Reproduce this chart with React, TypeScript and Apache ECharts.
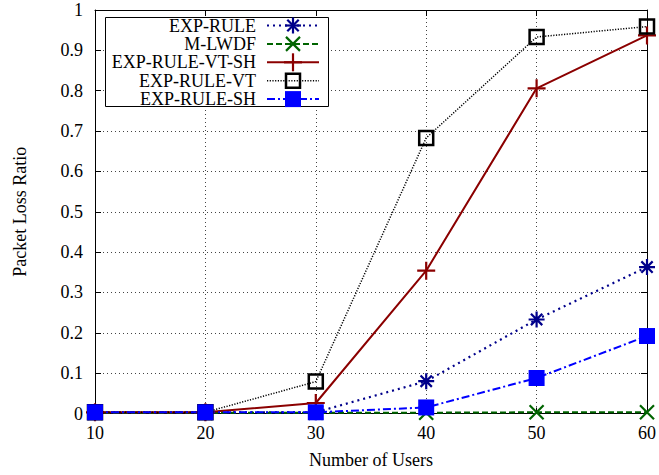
import React, { useEffect, useRef } from "react";
import * as echarts from "echarts";

const users = [10, 20, 30, 40, 50, 60];
const expRule = [0.003, 0.003, 0.003, 0.08, 0.233, 0.363];
const mLwdf = [0.002, 0.002, 0.002, 0.002, 0.003, 0.003];
const expRuleVtSh = [0.003, 0.003, 0.026, 0.354, 0.806, 0.937];
const expRuleVt = [0.003, 0.003, 0.079, 0.683, 0.933, 0.959];
const expRuleSh = [0.003, 0.003, 0.003, 0.015, 0.088, 0.192];
const seriesNames = ["EXP-RULE", "M-LWDF", "EXP-RULE-VT-SH", "EXP-RULE-VT", "EXP-RULE-SH"];

const FONT = "Liberation Serif";
const FS = 18;
const STAR = "path://M10,0L10,20M0,10L20,10M2.93,2.93L17.07,17.07M2.93,17.07L17.07,2.93";
const CROSS = "path://M0,0L20,20M0,20L20,0";
const PLUS = "path://M10,0L10,20M0,10L20,10";
const SQUARE = "path://M0,0L20,0L20,20L0,20Z";

const styles = [
  { color: "#00008b", dash: [2, 4] as any, width: 2.2, kind: "star" },
  { color: "#006400", dash: [6, 3] as any, width: 2, kind: "cross" },
  { color: "#8b0000", dash: "solid" as any, width: 2, kind: "plus" },
  { color: "#000000", dash: [1.2, 1.5] as any, width: 1.5, kind: "osq" },
  { color: "#0000ff", dash: [8, 3, 2, 3] as any, width: 2, kind: "fsq" },
];

const allData = [expRule, mLwdf, expRuleVtSh, expRuleVt, expRuleSh];

function markerSeries(i: number) {
  const s = styles[i];
  const base: any = {
    name: seriesNames[i],
    type: "line",
    data: users.map((u, k) => [u, allData[i][k]]),
    lineStyle: { color: s.color, width: s.width, type: s.dash },
    showSymbol: true,
    symbolKeepAspect: true,
  };
  if (s.kind === "star") {
    base.symbol = STAR; base.symbolSize = 16;
    base.itemStyle = { color: "none", borderColor: s.color, borderWidth: 2.2 };
  } else if (s.kind === "cross") {
    base.symbol = CROSS; base.symbolSize = 14;
    base.itemStyle = { color: "none", borderColor: s.color, borderWidth: 2.2 };
  } else if (s.kind === "plus") {
    base.symbol = PLUS; base.symbolSize = 18;
    base.itemStyle = { color: "none", borderColor: s.color, borderWidth: 2.2 };
  } else if (s.kind === "osq") {
    base.symbol = SQUARE; base.symbolSize = 14;
    base.itemStyle = { color: "rgba(0,0,0,0)", borderColor: s.color, borderWidth: 2.5 };
  } else {
    base.symbol = "rect"; base.symbolSize = 16;
    base.itemStyle = { color: s.color, borderWidth: 0 };
  }
  return base;
}

function legendMarker(kind: string, color: string, cx: number, cy: number): any[] {
  const ln = (x1: number, y1: number, x2: number, y2: number) => ({
    type: "line", z: 102,
    shape: { x1, y1, x2, y2 },
    style: { stroke: color, lineWidth: 2.2 },
  });
  if (kind === "star") {
    return [ln(cx, cy - 8, cx, cy + 8), ln(cx - 8, cy, cx + 8, cy), ln(cx - 5.7, cy - 5.7, cx + 5.7, cy + 5.7), ln(cx - 5.7, cy + 5.7, cx + 5.7, cy - 5.7)];
  }
  if (kind === "cross") {
    return [ln(cx - 7, cy - 7, cx + 7, cy + 7), ln(cx - 7, cy + 7, cx + 7, cy - 7)];
  }
  if (kind === "plus") {
    return [ln(cx, cy - 9, cx, cy + 9), ln(cx - 9, cy, cx + 9, cy)];
  }
  if (kind === "osq") {
    return [{ type: "rect", z: 102, shape: { x: cx - 7, y: cy - 7, width: 14, height: 14 }, style: { fill: "none", stroke: color, lineWidth: 2.5 } }];
  }
  return [{ type: "rect", z: 102, shape: { x: cx - 8, y: cy - 8, width: 16, height: 16 }, style: { fill: color } }];
}

export default function App() {
  const ref = useRef<HTMLDivElement>(null);
  useEffect(() => {
    if (!ref.current) return;
    const chart = echarts.init(ref.current, null, { renderer: "svg" });
    const graphics: any[] = [
      { type: "rect", z: 100, shape: { x: 105.5, y: 17.5, width: 223, height: 89 }, style: { fill: "#fff", stroke: "#000", lineWidth: 1 } },
    ];
    seriesNames.forEach((name, i) => {
      const y = 25.5 + i * 18.4;
      const s = styles[i];
      graphics.push({
        type: "text", z: 101, x: 256, y,
        style: { text: name, font: `${FS}px "${FONT}"`, fill: "#000", align: "right", verticalAlign: "middle" },
      });
      graphics.push({
        type: "line", z: 101, shape: { x1: 267, y1: y, x2: 319, y2: y },
        style: { stroke: s.color, lineWidth: s.width, lineDash: s.dash === "solid" ? null : s.dash },
      });
      graphics.push(...legendMarker(s.kind, s.color, 293, y));
    });

    const axisCommon = {
      min: 0, max: 1, interval: 0.1,
    };
    chart.setOption({
      animation: false,
      backgroundColor: "#fff",
      textStyle: { fontFamily: FONT },
      grid: { left: 95, right: 10, top: 10, bottom: 61.5, containLabel: false },
      xAxis: [
        {
          type: "value", min: 10, max: 60, interval: 10, position: "bottom",
          name: "Number of Users", nameLocation: "middle", nameGap: 37,
          nameTextStyle: { fontFamily: FONT, fontSize: FS, color: "#000" },
          axisLine: { show: true, onZero: false, lineStyle: { color: "#000", width: 1 } },
          axisTick: { show: true, inside: true, length: 6, lineStyle: { color: "#000" } },
          axisLabel: { fontFamily: FONT, fontSize: FS, color: "#000", margin: 10 },
          splitLine: { show: true, lineStyle: { color: "#444", type: [1, 3], width: 1 } },
        },
        {
          type: "value", min: 10, max: 60, interval: 10, position: "top",
          axisLine: { show: true, onZero: false, lineStyle: { color: "#000", width: 1 } },
          axisTick: { show: true, inside: true, length: 6, lineStyle: { color: "#000" } },
          axisLabel: { show: false },
          splitLine: { show: false },
        },
      ],
      yAxis: [
        {
          type: "value", ...axisCommon, position: "left",
          name: "Packet Loss Ratio", nameLocation: "middle", nameGap: 66,
          nameTextStyle: { fontFamily: FONT, fontSize: FS, color: "#000" },
          axisLine: { show: true, onZero: false, lineStyle: { color: "#000", width: 1 } },
          axisTick: { show: true, inside: true, length: 6, lineStyle: { color: "#000" } },
          axisLabel: {
            fontFamily: FONT, fontSize: FS, color: "#000", margin: 12,
            formatter: (v: number) => String(Math.round(v * 10) / 10),
          },
          splitLine: { show: true, lineStyle: { color: "#444", type: [1, 3], width: 1 } },
        },
        {
          type: "value", ...axisCommon, position: "right",
          axisLine: { show: true, onZero: false, lineStyle: { color: "#000", width: 1 } },
          axisTick: { show: true, inside: true, length: 6, lineStyle: { color: "#000" } },
          axisLabel: { show: false },
          splitLine: { show: false },
        },
      ],
      series: seriesNames.map((_, i) => markerSeries(i)),
      graphic: graphics,
    });
    return () => chart.dispose();
  }, []);
  return <div ref={ref} style={{ position: "absolute", left: 0, top: 0, width: 659, height: 475 }} />;
}
